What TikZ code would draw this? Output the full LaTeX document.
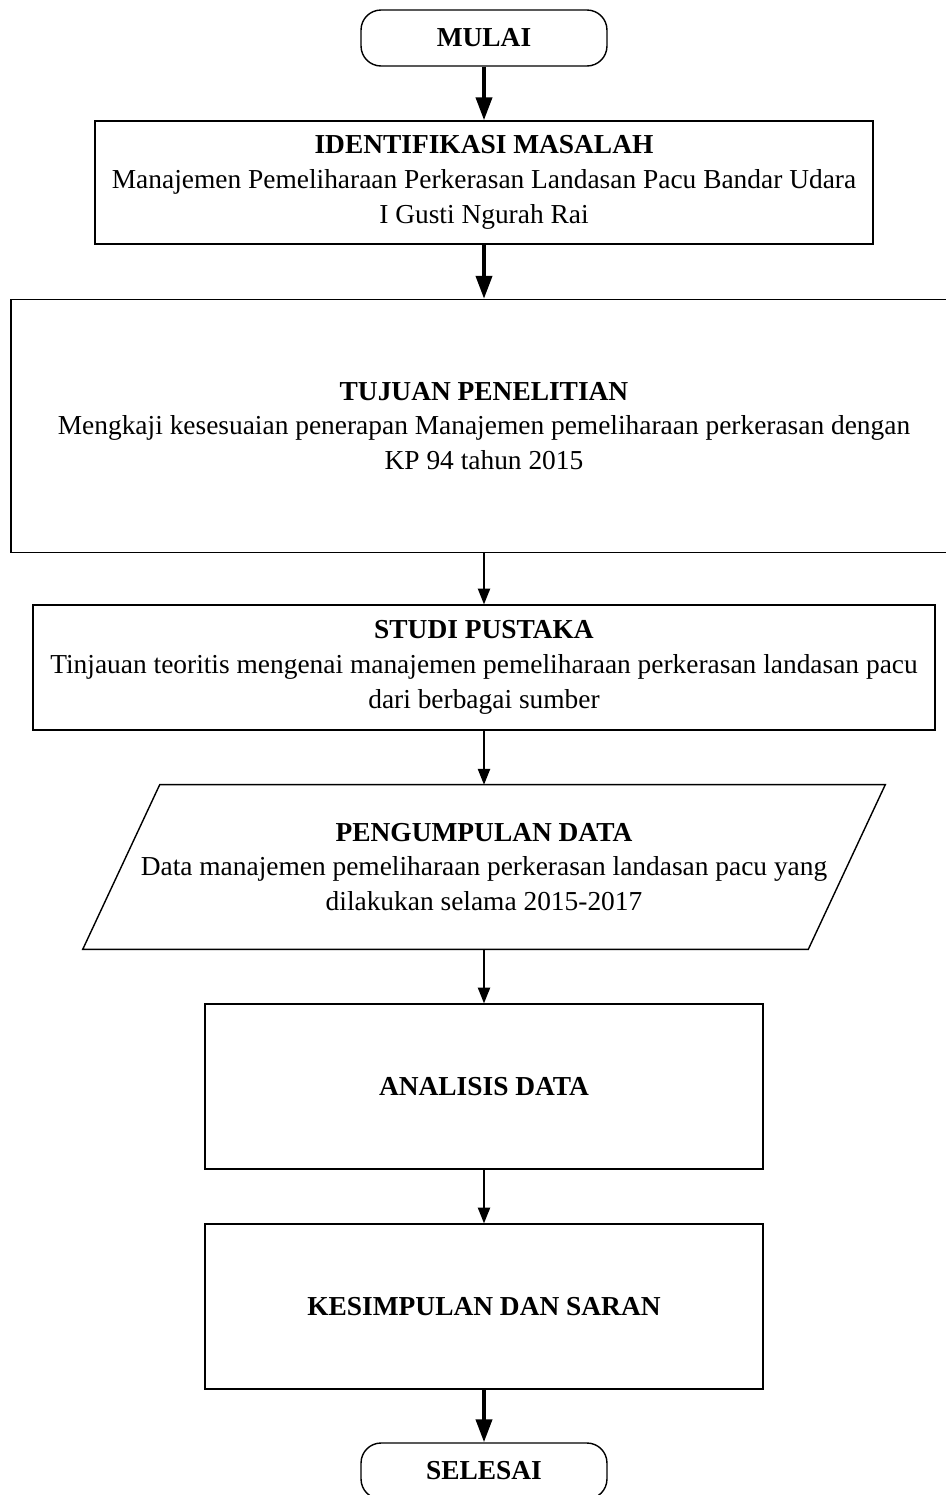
\documentclass[tikz,border=0pt]{standalone}
\usepackage{fontspec}
\setmainfont{Liberation Serif}
\usepackage{tikz}
\usetikzlibrary{
  arrows.meta, shapes.geometric,
  positioning, calc
}
\tikzset{
  terminal/.style={
    rectangle, rounded corners=0.4cm, draw=black, line width=0.8pt,
    minimum width=4.92cm, minimum height=1.12cm,
    align=center, font=\fontsize{15.6}{19.8}\selectfont\bfseries
  },
  process/.style={
    rectangle, draw=black, line width=0.8pt, inner sep=0pt,
    align=center, font=\fontsize{15.6}{19.8}\selectfont
  },
  inout/.style={
    rectangle, inner sep=0pt,
    align=center, font=\fontsize{15.6}{19.8}\selectfont
  },
  arrow/.style={-{Triangle[width=7pt,length=9pt]}, line width=0.85pt, draw=black},
  barrow/.style={-{Triangle[width=9pt,length=13pt]}, line width=2.3pt, draw=black}
}

\begin{document}
\begin{tikzpicture}[x=0.02cm, y=-0.02cm]
  \useasboundingbox (0,0) rectangle (946,1495);
  \node[terminal] (mulai) at (484,38) {MULAI};
  \node[process, minimum width=15.56cm, minimum height=2.46cm]
    (identifikasi) at (484,182.5)
    {\textbf{IDENTIFIKASI MASALAH}\\
     Manajemen Pemeliharaan Perkerasan Landasan Pacu Bandar Udara\\
     I Gusti Ngurah Rai};
  \node[process, minimum width=18.92cm, minimum height=5.06cm]
    (tujuan) at (484,426)
    {\textbf{TUJUAN PENELITIAN}\\
     Mengkaji kesesuaian penerapan Manajemen pemeliharaan perkerasan dengan\\
     KP 94 tahun 2015};
  \node[process, minimum width=18.04cm, minimum height=2.5cm]
    (studi) at (484,667.5)
    {\textbf{STUDI PUSTAKA}\\
     Tinjauan teoritis mengenai manajemen pemeliharaan perkerasan landasan pacu\\
     dari berbagai sumber};
  \node[inout, minimum width=14.5cm, minimum height=3.28cm]
    (data) at (484,867)
    {\textbf{PENGUMPULAN DATA}\\
     Data manajemen pemeliharaan perkerasan landasan pacu yang\\
     dilakukan selama 2015-2017};
  % parallelogram round the data node
  \draw[line width=0.8pt] ([xshift=-0.77cm]data.south west) -- ([xshift=0.77cm]data.north west)
    -- ([xshift=0.77cm]data.north east) -- ([xshift=-0.77cm]data.south east) -- cycle;
  \node[process, minimum width=11.16cm, minimum height=3.3cm]
    (analisis) at (484,1086.5) {\textbf{ANALISIS DATA}};
  \node[process, minimum width=11.16cm, minimum height=3.3cm]
    (kesimpulan) at (484,1306.5) {\textbf{KESIMPULAN DAN SARAN}};
  \node[terminal] (selesai) at (484,1471) {SELESAI};

  \draw[barrow] (mulai) -- (identifikasi);
  \draw[barrow] (identifikasi) -- (tujuan);
  \foreach \from/\to in {tujuan/studi, studi/data, data/analisis, analisis/kesimpulan}{
    \draw[arrow] (\from) -- (\to);
  }
  \draw[barrow] (kesimpulan) -- (selesai);
\end{tikzpicture}
\end{document}
